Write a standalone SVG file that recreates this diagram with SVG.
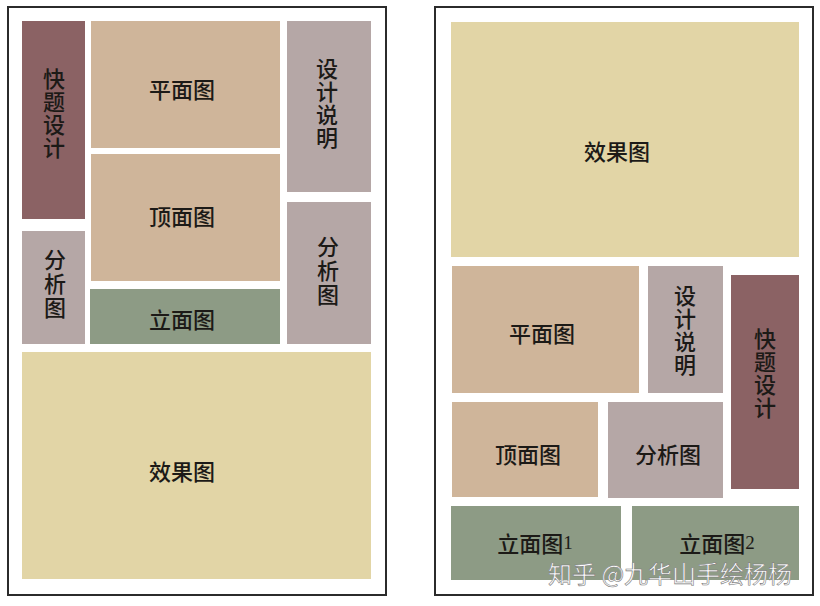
<svg xmlns="http://www.w3.org/2000/svg" width="820" height="606" viewBox="0 0 820 606">
<style>
.frame{fill:#fff;stroke:#2b2b2b;stroke-width:2}
.red{fill:#8b6264}
.tan{fill:#cfb59a}
.mauve{fill:#b5a7a6}
.green{fill:#8d9b85}
.yellow{fill:#e2d5a6}
text{font-family:"Noto Sans CJK SC","Noto Sans",sans-serif;font-size:22px;font-weight:500;fill:#1c1a17;text-anchor:middle;dominant-baseline:central}
.v{writing-mode:vertical-rl;letter-spacing:1px}
.v3{writing-mode:vertical-rl;letter-spacing:2px}
.num{font-family:"Liberation Serif",serif;font-size:19px;font-weight:400}
.wm{font-size:24px;font-weight:400;fill:#fff;stroke:#7a7a7a;stroke-width:0.6;text-anchor:start;dominant-baseline:alphabetic}
</style>
<rect width="820" height="606" fill="#fff"/>
<g id="panel-left">
<rect class="frame" x="8" y="7" width="378" height="588"/>
</g>
<g id="panel-right">
<rect class="frame" x="435" y="7" width="378" height="588"/>
</g>
<g id="L-kuaiti"><rect class="red" x="22" y="21" width="63" height="198"/>
<text class="v" x="54" y="114">快题设计</text></g>
<g id="L-pingmian"><rect class="tan" x="91" y="21" width="189" height="127"/><text x="182" y="88">平面图</text></g>
<g id="L-sheji"><rect class="mauve" x="287" y="21" width="84" height="171"/>
<text class="v" x="327" y="104">设计说明</text></g>
<g id="L-dingmian"><rect class="tan" x="91" y="154" width="189" height="127"/><text x="182" y="215">顶面图</text></g>
<g id="L-fenxi1"><rect class="mauve" x="22" y="231" width="63" height="113"/>
<text class="v3" x="55" y="285">分析图</text></g>
<g id="L-fenxi2"><rect class="mauve" x="287" y="202" width="84" height="142"/>
<text class="v3" x="328" y="272">分析图</text></g>
<g id="L-limian"><rect class="green" x="90" y="289" width="190" height="55"/><text x="182" y="318">立面图</text></g>
<g id="L-xiaoguo"><rect class="yellow" x="22" y="352" width="349" height="227"/><text x="182" y="470">效果图</text></g>

<g id="R-xiaoguo"><rect class="yellow" x="451" y="22" width="348" height="235"/><text x="617" y="150">效果图</text></g>
<g id="R-pingmian"><rect class="tan" x="452" y="266" width="187" height="127"/><text x="542" y="332">平面图</text></g>
<g id="R-sheji"><rect class="mauve" x="648" y="266" width="75" height="127"/>
<text class="v" x="685" y="331">设计说明</text></g>
<g id="R-kuaiti"><rect class="red" x="731" y="275" width="68" height="214"/>
<text class="v" x="765" y="374">快题设计</text></g>
<g id="R-dingmian"><rect class="tan" x="452" y="402" width="146" height="95"/><text x="528" y="453">顶面图</text></g>
<g id="R-fenxi"><rect class="mauve" x="608" y="402" width="115" height="96"/><text x="668" y="453">分析图</text></g>
<g id="R-limian1"><rect class="green" x="451" y="506" width="170" height="74"/><text x="535" y="542">立面图<tspan class="num">1</tspan></text></g>
<g id="R-limian2"><rect class="green" x="632" y="506" width="167" height="74"/><text x="717" y="542">立面图<tspan class="num">2</tspan></text></g>
<g id="connectors"></g>
<text class="wm" x="548" y="583">知乎 @九华山手绘杨杨</text>
</svg>
